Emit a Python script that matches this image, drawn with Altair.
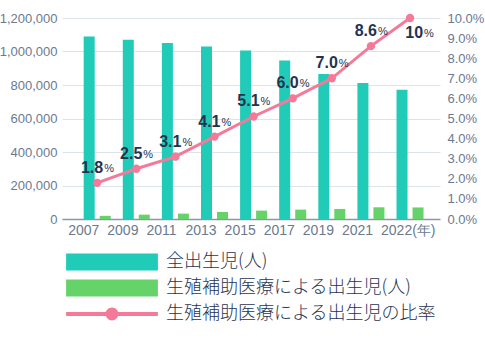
import altair as alt
import pandas as pd

years = ["2007", "2009", "2011", "2013", "2015", "2017", "2019", "2021", "2022"]
all_births = [1089000, 1070000, 1051000, 1030000, 1006000, 946000, 865000, 812000, 771000]
art_births = [19000, 26000, 32000, 42000, 50000, 56000, 60000, 70000, 69000]
ratio = [1.8, 2.5, 3.1, 4.1, 5.1, 6.0, 7.0, 8.6, 10.0]
ratio_labels = ["1.8", "2.5", "3.1", "4.1", "5.1", "6.0", "7.0", "8.6", "10"]

S1 = "全出生児(人)"
S2 = "生殖補助医療による出生児(人)"
S3 = "生殖補助医療による出生児の比率"

TEAL = "#20cbb8"
GREEN = "#66d36a"
PINK = "#f57a9a"
NAVY = "#1f3452"
AXIS = "#6a7a90"
NUMFONT = "Liberation Sans"
JPFONT = "Noto Sans CJK JP"

df = pd.DataFrame({
    "year": years,
    "all": all_births,
    "art": art_births,
    "ratio": ratio,
    "rlabel": ratio_labels,
    "s1": [S1] * len(years),
    "s2": [S2] * len(years),
    "s3": [S3] * len(years),
})

xscale = alt.Scale(paddingInner=0, paddingOuter=0.333, align=0.6)
xenc = alt.X("year:N", scale=xscale, sort=years, title=None,
             axis=alt.Axis(labelAngle=0, labelFont=NUMFONT, labelFontSize=14,
                           labelColor=AXIS, domainColor="#8a97a8", domainWidth=1.5,
                           ticks=False, labelPadding=4, labelAlign="left", labelOffset=-29,
                           labelExpr="datum.value == '2022' ? '2022(年)' : datum.value"))

color_scale = alt.Scale(domain=[S1, S2, S3], range=[TEAL, GREEN, PINK])
rect_path = "M-5.1,-0.95H5.1V0.95H-5.1Z"
line_path = ("M-5.1,-0.22H-0.6V0.22H-5.1Z "
             "M0.6,-0.22H5.1V0.22H0.6Z "
             "M-0.72,0A0.72,0.72 0 1,1 0.72,0A0.72,0.72 0 1,1 -0.72,0Z")
shape_scale = alt.Scale(domain=[S1, S2, S3], range=[rect_path, rect_path, line_path])

legend = alt.Legend(orient="none", legendX=4, legendY=235, title=None,
                    symbolSize=324, symbolOffset=37, labelOffset=45, labelLimit=400,
                    labelFont=JPFONT, labelFontSize=18, labelFontWeight=300,
                    labelColor=NAVY,
                    symbolStrokeWidth=0, rowPadding=8, symbolOpacity=1)

left_axis = alt.Axis(values=[0, 200000, 400000, 600000, 800000, 1000000, 1200000],
                     format=",d", labelFont=NUMFONT, labelFontSize=13,
                     labelColor=AXIS, ticks=False, domain=False,
                     gridColor="#dde3ea", gridWidth=1.2, labelPadding=5)
left_scale = alt.Scale(domain=[0, 1200000])

bars1 = alt.Chart(df).mark_bar(width=11, xOffset=-8).encode(
    x=xenc, y=alt.Y("all:Q", scale=left_scale, title=None, axis=left_axis),
    color=alt.Color("s1:N", scale=color_scale, legend=legend),
)
bars2 = alt.Chart(df).mark_bar(width=11, xOffset=8).encode(
    x=xenc, y=alt.Y("art:Q", scale=left_scale, title=None, axis=left_axis),
    color=alt.Color("s2:N", scale=color_scale, legend=legend),
)
left = alt.layer(bars1, bars2)

right_scale = alt.Scale(domain=[0, 10])
right_axis = alt.Axis(orient="right", values=list(range(0, 11)),
                      labelExpr="format(datum.value, '.1f') + '%'",
                      labelFont=NUMFONT, labelFontSize=13, labelColor=AXIS,
                      ticks=False, domain=False, grid=False, labelPadding=7)
yright = alt.Y("ratio:Q", scale=right_scale, title=None, axis=right_axis)

line = alt.Chart(df).mark_line(color=PINK, strokeWidth=3).encode(x=xenc, y=yright)
pts = alt.Chart(df).mark_point(filled=True, size=70, opacity=1, color=PINK).encode(
    x=xenc, y=yright)
legend_only = alt.Chart(df).mark_point(filled=True, size=0, opacity=1).encode(
    x=xenc, y=yright,
    color=alt.Color("s3:N", scale=color_scale, legend=legend),
    shape=alt.Shape("s3:N", scale=shape_scale, legend=legend),
)

df_a = df[df["year"] != "2022"]
df_b = df[df["year"] == "2022"]

num_a = alt.Chart(df_a).mark_text(align="right", baseline="middle", dx=6, dy=-15,
                                  font=NUMFONT, fontSize=16, fontWeight="bold",
                                  color=NAVY).encode(
    x=xenc, y=yright, text="rlabel:N")
pct_a = alt.Chart(df_a).mark_text(align="left", baseline="middle", dx=7, dy=-14,
                                  font=NUMFONT, fontSize=11, color=NAVY).encode(
    x=xenc, y=yright, text=alt.value("%"))
num_b = alt.Chart(df_b).mark_text(align="right", baseline="middle", dx=13, dy=15,
                                  font=NUMFONT, fontSize=16, fontWeight="bold",
                                  color=NAVY).encode(
    x=xenc, y=yright, text="rlabel:N")
pct_b = alt.Chart(df_b).mark_text(align="left", baseline="middle", dx=14, dy=16,
                                  font=NUMFONT, fontSize=11, color=NAVY).encode(
    x=xenc, y=yright, text=alt.value("%"))

right = alt.layer(line, pts, legend_only, num_a, pct_a, num_b, pct_b)

chart = alt.layer(left, right).resolve_scale(y="independent").properties(
    width=378, height=201,
    autosize=alt.AutoSizeParams(type="none"),
    padding={"left": 62, "top": 18, "right": 45, "bottom": 126},
    background="white",
).configure_view(stroke=None).configure_legend(
    symbolType=rect_path
)

chart.save("out.html", embed_options={"renderer": "svg", "actions": False})
